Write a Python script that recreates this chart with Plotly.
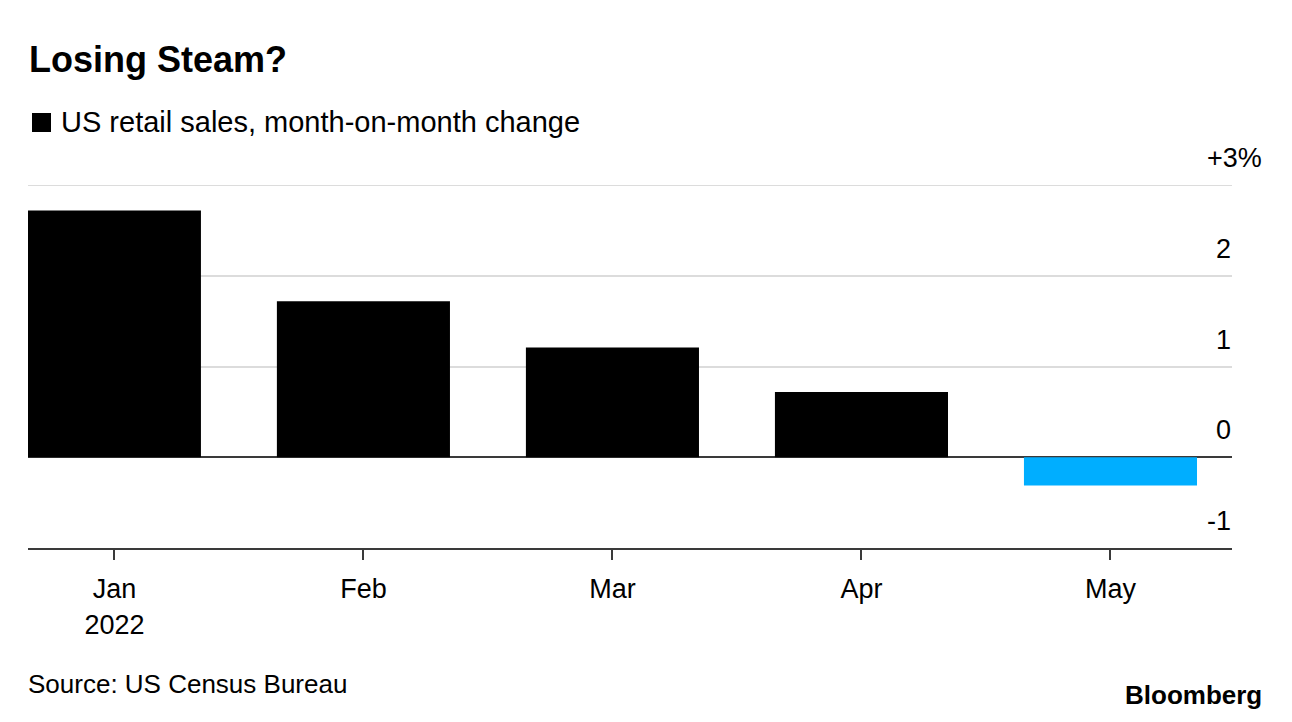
import plotly.graph_objects as go

months = ["Jan<br>2022", "Feb", "Mar", "Apr", "May"]
values = [2.72, 1.72, 1.21, 0.72, -0.31]
colors = ["#000000", "#000000", "#000000", "#000000", "#00AEFF"]
ytick_vals = [3, 2, 1, 0, -1]
ytick_text = ["+3%", "2", "1", "0", "-1"]

# page offset of the plot div (browser default body margin)
OFF = 8
W, H = 1292 - OFF, 722 - OFF
# plot area in page pixels
L, R, T, B = 28, 1232, 185, 548
FONT = "Liberation Sans, Arial, Helvetica, sans-serif"


def px(x):
    return (x - L) / (R - L)


def py(y):
    return (B - y) / (B - T)


fig = go.Figure()
fig.add_trace(go.Bar(x=months, y=values, marker=dict(color=colors, line=dict(width=0)),
                     showlegend=False, hoverinfo="skip"))

annotations = []
for i, (v, t) in enumerate(zip(ytick_vals, ytick_text)):
    # the top label carries the unit, which hangs past the numbers' right edge
    xr = px(1263) if i == 0 else 1.0
    annotations.append(dict(xref="paper", yref="y", x=xr, y=v, yshift=27,
                            xanchor="right", yanchor="middle", text=t, showarrow=False,
                            borderpad=0, font=dict(family=FONT, size=27, color="#000")))

annotations += [
    dict(xref="paper", yref="paper", x=px(27), y=py(59), xanchor="left", yanchor="middle",
         text="<b>Losing Steam?</b>", showarrow=False,
         font=dict(family=FONT, size=36, color="#000")),
    dict(xref="paper", yref="paper", x=px(59), y=py(122), xanchor="left", yanchor="middle",
         text="US retail sales, month-on-month change", showarrow=False,
         font=dict(family=FONT, size=29, color="#000")),
    dict(xref="paper", yref="paper", x=px(26), y=py(684), xanchor="left", yanchor="middle",
         text="Source: US Census Bureau", showarrow=False,
         font=dict(family=FONT, size=26, color="#000")),
    dict(xref="paper", yref="paper", x=px(1264), y=py(695), xanchor="right", yanchor="middle",
         text="<b>Bloomberg</b>", showarrow=False,
         font=dict(family=FONT, size=26, color="#000")),
]

shapes = [
    dict(type="rect", xref="paper", yref="paper", x0=px(32), x1=px(51),
         y0=py(132), y1=py(113), fillcolor="#000", line=dict(width=0)),
    dict(type="line", xref="paper", yref="y", x0=0, x1=1, y0=ytick_vals[0], y1=ytick_vals[0],
         line=dict(color="#dcdcdc", width=2), layer="below"),
]

fig.update_layout(
    width=W, height=H,
    margin=dict(l=L - OFF, r=W - (R - OFF), t=T - OFF, b=H - (B - OFF), pad=0),
    paper_bgcolor="white", plot_bgcolor="white",
    bargap=0.305,
    font=dict(family=FONT, size=27, color="#000"),
    annotations=annotations,
    shapes=shapes,
    xaxis=dict(range=[-0.347, 4.488], showgrid=False, showline=True, linecolor="#3a3a3a",
               linewidth=2, ticks="outside", ticklen=10, tickwidth=2, tickcolor="#3a3a3a",
               ticklabelstandoff=6,
               tickfont=dict(family=FONT, size=27, color="#000"), fixedrange=True),
    yaxis=dict(range=[-1, 3], tickvals=ytick_vals, showticklabels=False, showgrid=True,
               gridcolor="#dcdcdc", gridwidth=2, zeroline=True, zerolinecolor="#3a3a3a",
               zerolinewidth=2, fixedrange=True),
)

fig.write_html("out.html")
